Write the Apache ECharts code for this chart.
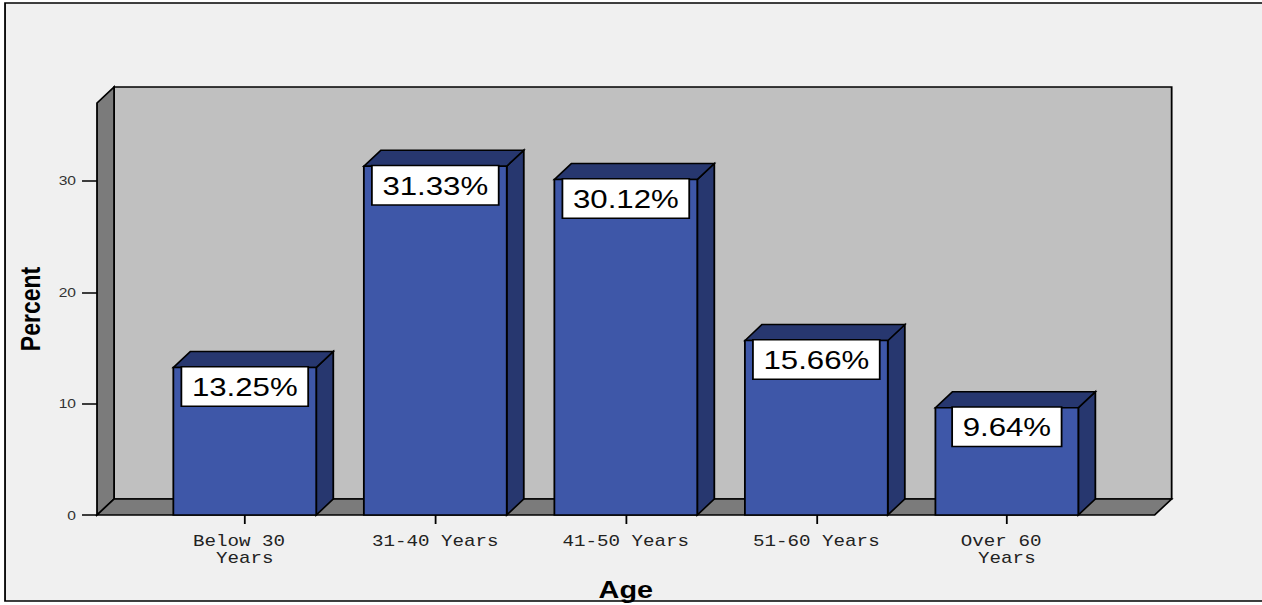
<!DOCTYPE html>
<html>
<head>
<meta charset="utf-8">
<title>Age</title>
<script src="https://cdn.jsdelivr.net/npm/echarts@6/dist/echarts.min.js"></script>
<style>
  html, body { margin: 0; padding: 0; background: #ffffff; overflow: hidden; }
  /* the chart is laid out narrow and stretched horizontally */
  #chart { width: 1051.67px; height: 605px; transform: scaleX(1.2); transform-origin: 0 0; }
</style>
</head>
<body>
<div id="chart"></div>
<script>
// Age groups and their share of respondents (%)
const categories = ['Below 30 Years', '31-40 Years', '41-50 Years', '51-60 Years', 'Over 60 Years'];
const percents = [13.25, 31.33, 30.12, 15.66, 9.64];
const yTicks = [0, 10, 20, 30];
const yMax = 37;

// depth offset of the 3D box and bars, and how far the floor runs past the outer bars
const DX = 14.2, DY = -16;
const PAD = 43.75;

const FRONT = '#3e57a8';
const DARK = '#27376f';
const WALL = '#c0c0c0';
const SIDE = '#7b7b7b';

const chart = echarts.init(document.getElementById('chart'), null, { renderer: 'svg' });

function renderBar(params, api) {
  const idx = api.value(0);
  const v = api.value(1);
  const top = api.coord([idx, v]);
  const base = api.coord([idx, 0]);
  const w = api.size([1, 0])[0] * 0.75;
  const x0 = top[0] - w / 2, x1 = top[0] + w / 2;
  const yt = top[1], yb = base[1];
  const edge = { stroke: '#000', lineWidth: 1.5, lineJoin: 'miter' };
  return {
    type: 'group',
    children: [
      { type: 'polygon', shape: { points: [[x1, yt], [x1 + DX, yt + DY], [x1 + DX, yb + DY], [x1, yb]] },
        style: Object.assign({ fill: DARK }, edge) },
      { type: 'polygon', shape: { points: [[x0, yt], [x0 + DX, yt + DY], [x1 + DX, yt + DY], [x1, yt]] },
        style: Object.assign({ fill: DARK }, edge) },
      { type: 'rect', shape: { x: x0, y: yt, width: w, height: yb - yt },
        style: Object.assign({ fill: FRONT }, edge) },
      { type: 'text', x: top[0], y: yt,
        style: {
          text: v.toFixed(2) + '%',
          font: '26px "Liberation Sans", Arial, sans-serif',
          fill: '#000',
          align: 'center',
          verticalAlign: 'top',
          lineHeight: 27,
          backgroundColor: '#ffffff',
          borderColor: '#000',
          borderWidth: 1.5,
          padding: [6, 8, 5, 8]
        } }
    ]
  };
}

chart.setOption({
  animation: false,
  grid: { left: 124.6, right: 133.57, top: 103, bottom: 90, outerBoundsMode: 'none', containLabel: false },
  xAxis: {
    type: 'category',
    data: categories,
    axisLine: { show: false },
    axisTick: { show: true, alignWithLabel: true, length: 9, lineStyle: { color: '#000', width: 1.5 } },
    axisLabel: {
      margin: 18,
      color: '#222',
      fontFamily: '"Liberation Mono", "Courier New", monospace',
      fontSize: 16,
      lineHeight: 17,
      width: 115,
      overflow: 'break',
      interval: 0
    },
    name: 'Age',
    nameLocation: 'middle',
    nameGap: 63,
    nameTextStyle: { color: '#000', fontFamily: '"Liberation Sans", Arial, sans-serif', fontSize: 24, fontWeight: 'bold' }
  },
  yAxis: {
    type: 'value',
    min: 0,
    max: yMax,
    interval: 10,
    offset: PAD,
    axisLine: { show: false },
    splitLine: { show: false },
    axisTick: { show: true, length: 12.5, customValues: yTicks, lineStyle: { color: '#000', width: 1.5 } },
    axisLabel: {
      customValues: yTicks,
      margin: 17.5,
      color: '#333',
      fontFamily: '"Liberation Sans", Arial, sans-serif',
      fontSize: 13
    },
    name: 'Percent',
    nameLocation: 'middle',
    nameGap: 44,
    nameTextStyle: { color: '#000', fontFamily: '"Liberation Sans", Arial, sans-serif', fontSize: 23, fontWeight: 'bold' }
  },
  series: [{
    type: 'custom',
    renderItem: renderBar,
    encode: { x: 0, y: 1 },
    data: percents.map((v, i) => [i, v]),
    z: 5
  }]
});

// box walls and floor, placed from the axes' own scales
function drawBox() {
  const cx0 = chart.convertToPixel({ xAxisIndex: 0 }, 0);
  const cx1 = chart.convertToPixel({ xAxisIndex: 0 }, 1);
  const cxN = chart.convertToPixel({ xAxisIndex: 0 }, categories.length - 1);
  const band = cx1 - cx0;
  const L = cx0 - band / 2 - PAD;
  const R = cxN + band / 2 + PAD;
  const B = chart.convertToPixel({ yAxisIndex: 0 }, 0);
  const T = chart.convertToPixel({ yAxisIndex: 0 }, yMax);
  const edge = { stroke: '#000', lineWidth: 1.5 };
  chart.setOption({
    graphic: [
      { type: 'rect', z: -20, shape: { x: 4.2, y: 3, width: 1100, height: 598 },
        style: { fill: '#f0f0f0', stroke: '#000', lineWidth: 1.5 } },
      { type: 'polygon', z: -10, shape: { points: [[L + DX, T + DY], [R + DX, T + DY], [R + DX, B + DY], [L + DX, B + DY]] },
        style: Object.assign({ fill: WALL }, edge) },
      { type: 'polygon', z: -9, shape: { points: [[L, B], [L, T], [L + DX, T + DY], [L + DX, B + DY]] },
        style: Object.assign({ fill: SIDE }, edge) },
      { type: 'polygon', z: -9, shape: { points: [[L, B], [L + DX, B + DY], [R + DX, B + DY], [R, B]] },
        style: Object.assign({ fill: SIDE }, edge) }
    ]
  });
}
drawBox();
</script>
</body>
</html>
